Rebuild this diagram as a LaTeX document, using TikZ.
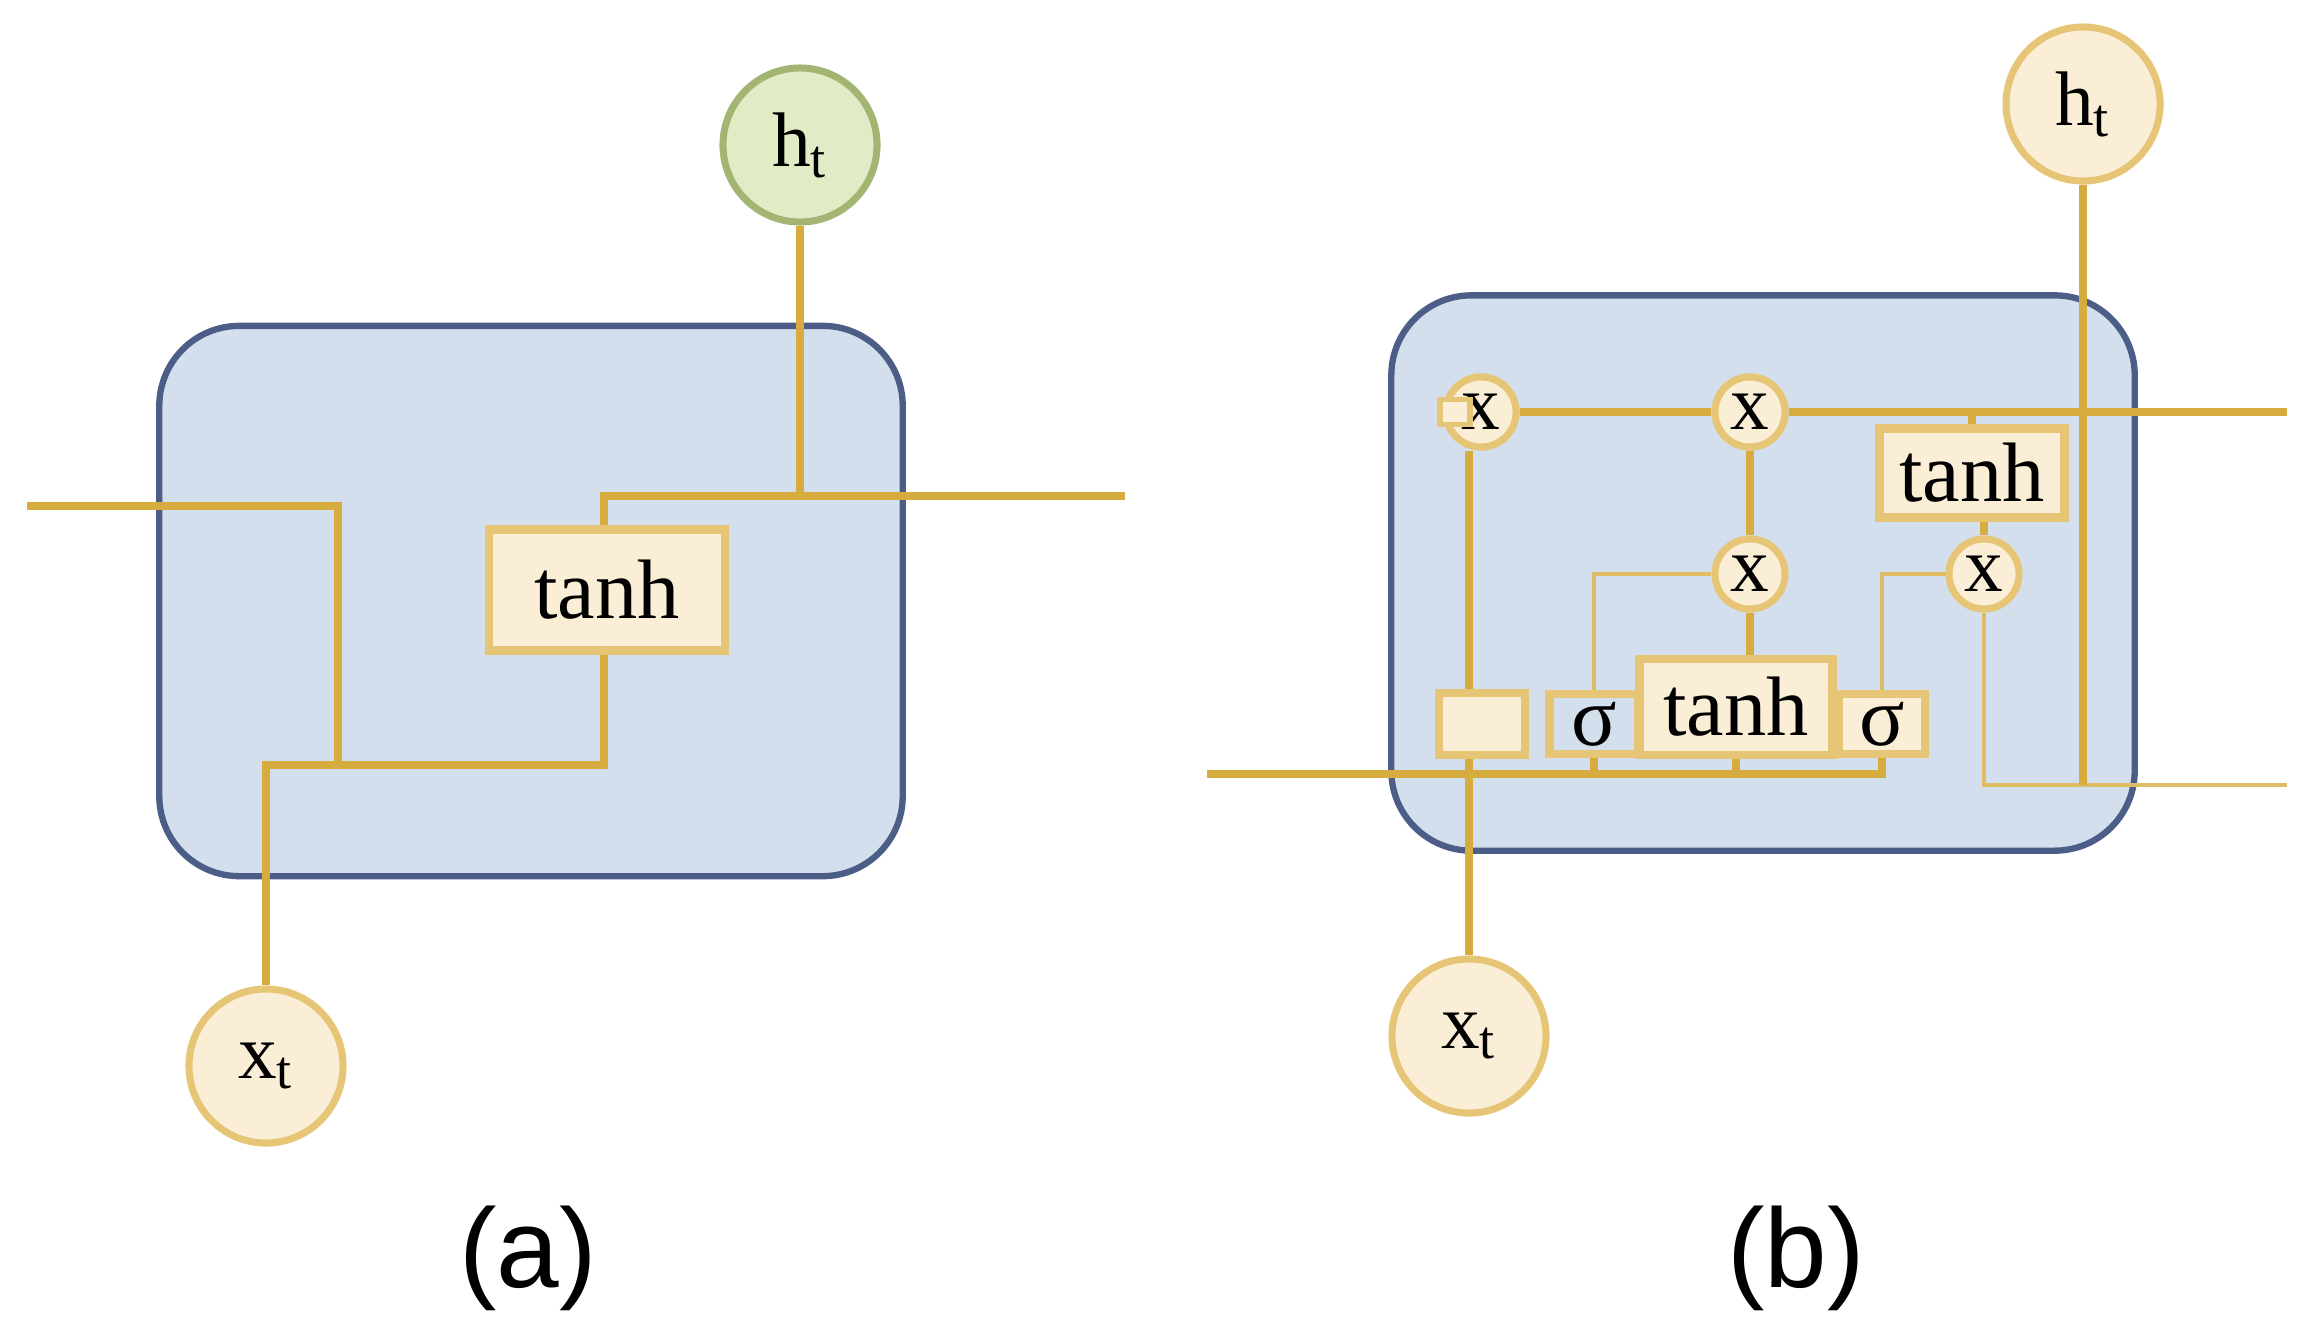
\documentclass[tikz,border=0pt]{standalone}
\usepackage{fontspec}
\setmainfont{Liberation Serif}
\setsansfont{Liberation Sans}
\usepackage{tikz}
\usetikzlibrary{positioning}
\definecolor{gold}{HTML}{D6AC3E}
\definecolor{cellfill}{HTML}{D3DFEC}
\definecolor{celldraw}{HTML}{4C5E88}
\definecolor{beige}{HTML}{FBEED6}
\definecolor{beigedraw}{HTML}{E6C676}
\definecolor{greenfill}{HTML}{E1EBC6}
\definecolor{greendraw}{HTML}{A3B573}
\begin{document}
\begin{tikzpicture}[x=0.01cm,y=-0.01cm,
    cell/.style={rectangle, draw=celldraw, fill=cellfill, line width=1.8pt, rounded corners=0.8cm},
    io/.style={circle, draw=beigedraw, fill=beige, line width=2pt, minimum size=1.54cm, inner sep=0pt, font=\fontsize{22}{26}\selectfont},
    op/.style={circle, draw=beigedraw, fill=beige, line width=2pt, minimum size=0.7cm, inner sep=0pt, font=\fontsize{22}{26}\selectfont},
    box/.style={rectangle, draw=beigedraw, fill=beige, line width=2.5pt, inner sep=0pt, font=\fontsize{24}{28}\selectfont},
    wire/.style={draw=gold, line width=2.4pt},
    thin/.style={draw=gold!80, line width=1.3pt},
    caption/.style={font=\sffamily\fontsize{32}{38}\selectfont}
]
\useasboundingbox (0,0) rectangle (2310,1318);

% (a) simple recurrent cell
\node[cell, minimum width=7.43cm, minimum height=5.5cm] (cellA) at (531,601) {};
\node[io, fill=greenfill, draw=greendraw] (hA) at (800,145) {h\textsubscript{t}};
\node[io] (xA) at (266,1066) {x\textsubscript{t}};
\node[box, minimum width=2.36cm, minimum height=1.21cm] (tanhA) at (607,590) {tanh};
\coordinate (inA) at (27,506);
\coordinate (outA) at (1125,496);
\draw[wire] (inA) -| (338,765);
\draw[wire] (xA) |- (604,765) -- (tanhA.south -| 604,0);
\draw[wire] (tanhA.north -| 604,0) |- (outA);
\draw[wire] (hA) -- (800,496);
\node[caption] (capA) at (528,1258) {(a)};

% (b) gated cell
\node[cell, minimum width=7.43cm, minimum height=5.55cm] (cellB) at (1763,573) {};
\node[io] (hB) at (2083,104) {h\textsubscript{t}};
\node[io] (xB) at (1469,1036) {x\textsubscript{t}};
\coordinate (inB) at (1207,774);
\coordinate (outB) at (2287,412);
\coordinate (outB2) at (2287,785);
\node[box, minimum width=0.86cm, minimum height=0.62cm] (blank) at (1482,724) {};
\node[box, minimum width=0.89cm, minimum height=0.6cm, fill=cellfill] (sigA) at (1594,724) {σ};
\node[box, minimum width=1.93cm, minimum height=0.96cm] (tanhB) at (1736,707) {tanh};
\node[box, minimum width=0.86cm, minimum height=0.6cm] (sigB) at (1882,724) {σ};
\node[box, minimum width=1.85cm, minimum height=0.89cm] (tanhC) at (1972,473) {tanh};
\node[op] (mulF) at (1481,412) {x};
\node[op] (mulC) at (1750,412) {x};
\node[op] (mulI) at (1750,574) {x};
\node[op] (mulO) at (1984,574) {x};
\node[rectangle, draw=beigedraw, fill=beige, line width=1.5pt, minimum width=0.3cm, minimum height=0.25cm, inner sep=0pt] (gate) at (1455,412) {};

\draw[thin] (sigA.north) |- (mulI.west);
\draw[thin] (sigB.north) |- (mulO.west);
\draw[thin] (mulO.south) |- (outB2);
\draw[wire] (inB) -| (sigB.south);
\draw[wire] (sigA.south) -- (sigA.south |- inB);
\draw[wire] (tanhB.south) -- (tanhB.south |- inB);
\draw[wire] (xB) -- (blank.south -| xB);
\draw[wire] (blank.north -| xB) -- (mulF.south -| xB);
\draw[wire] (mulF) -- (mulC) -- (outB);
\draw[wire] (mulC) -- (mulI) -- (tanhB.north -| mulI);
\draw[wire] (tanhC.north) -- (tanhC.north |- outB);
\draw[wire] (mulO.north) -- (mulO.north |- tanhC.south);
\draw[wire] (hB) -- (2083,785);
\node[op] at (mulF) {x};
\node[op] at (mulC) {x};
\node[rectangle, draw=beigedraw, fill=beige, line width=1.5pt, minimum width=0.3cm, minimum height=0.25cm, inner sep=0pt] at (gate) {};
\node[caption] (capB) at (1796,1258) {(b)};
\end{tikzpicture}
\end{document}
